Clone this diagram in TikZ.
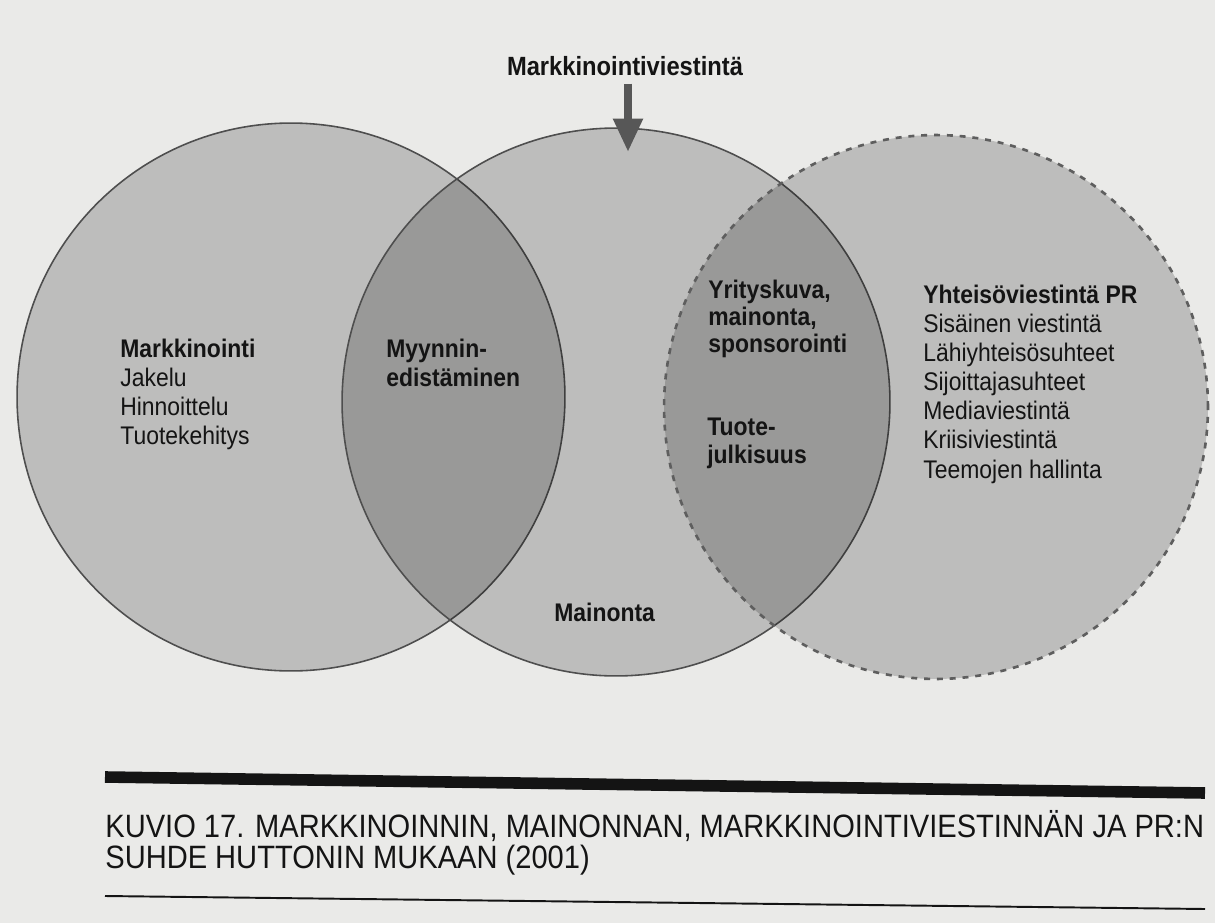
\documentclass[tikz,border=0pt]{standalone}
\usepackage{fontspec}
\setmainfont{Liberation Sans}[FakeStretch=0.9]
\usetikzlibrary{arrows.meta}
\definecolor{paper}{HTML}{EAEAE8}
\definecolor{rim}{HTML}{4E4E4E}
\definecolor{dashrim}{HTML}{5E5E5E}
\definecolor{arrowgray}{HTML}{575757}
\definecolor{ink}{HTML}{141414}
\begin{document}
\begin{tikzpicture}[x=0.02cm,y=-0.02cm,
  disc/.style={circle,inner sep=0pt,fill=black,fill opacity=0.19,draw=rim,line width=0.9pt},
  dashdisc/.style={disc,draw=dashrim,line width=1.5pt,dash pattern=on 3.4pt off 3.9pt},
  lab/.style={anchor=base west,align=left,inner sep=0pt,text=ink,font=\fontsize{14.5}{16.4}\selectfont},
  boldlab/.style={lab,font=\fontsize{14.5}{16.4}\selectfont\bfseries},
  captext/.style={anchor=base west,align=left,inner sep=0pt,text=ink,font=\fontsize{18.4}{17.6}\selectfont},
  pointer/.style={draw=arrowgray,line width=4.5pt,-{Triangle[width=16pt,length=19pt,fill=arrowgray]}}]
\useasboundingbox (0,0) rectangle (1215,923);
\fill[paper] (0,0) rectangle (1215,923);
% circles
\node[disc,minimum size=10.96cm] (L) at (291,397) {};
\node[disc,minimum size=10.96cm] (M) at (616,402) {};
\node[dashdisc,minimum size=10.88cm] (R) at (936,407) {};
% top label and arrow
\node[boldlab,anchor=base,font=\fontsize{15}{17}\selectfont\bfseries] (mv) at (625,75) {Markkinointiviestintä};
\coordinate (tip) at (628,152);
\draw[pointer,shorten <=4.5pt] (tip |- mv.south) -- (tip);
% texts (anchor = baseline of the last line)
\node[lab] (mk) at (120,444) {\textbf{Markkinointi}\\Jakelu\\Hinnoittelu\\Tuotekehitys};
\node[boldlab] (me) at (386,386) {Myynnin-\\edistäminen};
\node[boldlab] (mai) at (554,621) {Mainonta};
\node[boldlab,font=\fontsize{14.5}{15.3}\selectfont\bfseries] (yk) at (708,352) {Yrityskuva,\\mainonta,\\sponsorointi};
\node[boldlab,font=\fontsize{14.5}{15.9}\selectfont\bfseries] (tj) at (707,463) {Tuote-\\julkisuus};
\node[lab,font=\fontsize{14.5}{16.6}\selectfont] (pr) at (923,478) {\textbf{Yhteisöviestintä PR}\\Sisäinen viestintä\\Lähiyhteisösuhteet\\Sijoittajasuhteet\\Mediaviestintä\\Kriisiviestintä\\Teemojen hallinta};
% caption rules and text
\coordinate (b1) at (105,777);
\coordinate (b2) at (1205,793);
\draw[ink,line width=6.6pt] (b1) -- (b2);
\node[captext] (kv) at (105,868) {KUVIO 17. MARKKINOINNIN, MAINONNAN, MARKKINOINTIVIESTINNÄN JA PR:N\\SUHDE HUTTONIN MUKAAN (2001)};
\coordinate (t1) at (105,896);
\coordinate (t2) at (1205,909);
\draw[ink,line width=1.1pt] (t1) -- (t2);
\end{tikzpicture}
\end{document}
